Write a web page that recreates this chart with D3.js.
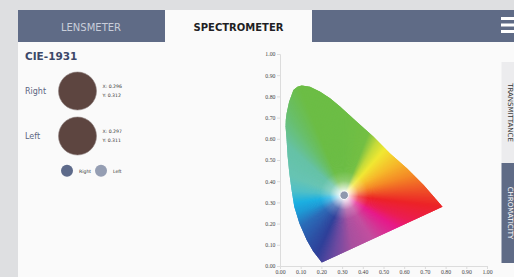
<!DOCTYPE html>
<html><head><meta charset="utf-8">
<script src="https://cdn.jsdelivr.net/npm/d3@7"></script>
<style>
html,body{margin:0;padding:0;background:#dedfe1;overflow:hidden}
svg{display:block}
</style></head>
<body>
<svg id="c" width="514" height="277"></svg>
<script>
// ---- data ----
const tabs = ["LENSMETER", "SPECTROMETER"];
const sideTabs = ["TRANSMITTANCE", "CHROMATICITY"];
const title = "CIE-1931";
const eyes = ["Right", "Left"];
const readX = [0.296, 0.297];
const readY = [0.312, 0.311];
// plotted marker position
const markerX = [0.310];
const markerY = [0.334];
// stylised spectral locus
const locusX = [0.202,0.160,0.129,0.094,0.069,0.056,0.045,0.037,0.032,0.027,0.028,0.032,0.044,0.065,0.084,0.105,0.145,0.194,0.242,0.290,0.371,0.452,0.532,0.613,0.694,0.785];
const locusY = [0.016,0.070,0.123,0.201,0.280,0.358,0.437,0.516,0.594,0.657,0.690,0.720,0.775,0.830,0.846,0.852,0.846,0.822,0.791,0.752,0.681,0.610,0.531,0.461,0.382,0.280];
const tickValues = [0,0.1,0.2,0.3,0.4,0.5,0.6,0.7,0.8,0.9,1.0];
// hue around white point: angle (deg, clockwise from up) -> colour
const hueAngles = [0,22,32,42,60,74,88,97,112,122,148,172,190,205,235,250,262,275,290,312,326,338,360];
const hueColors = ["#6cbd45","#74bf44","#c4da3a","#f1e833","#f6b82b","#f48a26","#ee4b27","#ec2327","#eb1d55","#e71a8a","#c24f9f","#a8509f","#6c4aa0","#2f4099","#2b6db9","#1e9ad6","#1db0e1","#4fbfc8","#67c4b4","#66c2a6","#68bf6e","#6cbd45","#6cbd45"];

const svg = d3.select("#c");
const W = 514, H = 277;

// ---- frame ----
svg.append("rect").attr("x",18).attr("y",42).attr("width",W-18).attr("height",H-42).attr("fill","#fafafa");
svg.append("rect").attr("x",18).attr("y",10).attr("width",W-18).attr("height",32).attr("fill","#5f6b86");
svg.append("rect").attr("x",165).attr("y",10).attr("width",147).attr("height",32).attr("fill","#fafafa");
svg.append("text").attr("x",91).attr("y",30.5).attr("text-anchor","middle")
  .attr("font-family","DejaVu Sans").attr("font-size",10).attr("fill","#c9ceda").text(tabs[0]);
svg.append("text").attr("x",238.5).attr("y",30.5).attr("text-anchor","middle")
  .attr("font-family","DejaVu Sans").attr("font-size",10).attr("font-weight","bold").attr("fill","#1f1f24").text(tabs[1]);
[18.5,25,31.5].forEach(y=>svg.append("rect").attr("x",501).attr("y",y-1.5).attr("width",14).attr("height",3).attr("fill","#ffffff"));

// side tabs
svg.append("rect").attr("x",501.5).attr("y",62).attr("width",13).attr("height",101).attr("fill","#ececee");
svg.append("rect").attr("x",501.5).attr("y",163).attr("width",13).attr("height",100).attr("fill","#5f6b86");
svg.append("text").attr("transform","translate(507.5,112.5) rotate(90)").attr("text-anchor","middle")
  .attr("font-family","DejaVu Sans").attr("font-size",7).attr("fill","#333").text(sideTabs[0]);
svg.append("text").attr("transform","translate(507.5,213) rotate(90)").attr("text-anchor","middle")
  .attr("font-family","DejaVu Sans").attr("font-size",7).attr("fill","#ffffff").text(sideTabs[1]);

// ---- left panel ----
svg.append("text").attr("x",25).attr("y",60).attr("font-family","DejaVu Sans").attr("font-weight","bold")
  .attr("font-size",10.5).attr("fill","#3c4869").text(title);
const swatchY = [91, 136];
eyes.forEach((e,i)=>{
  svg.append("text").attr("x",25).attr("y",swatchY[i]+3).attr("font-family","DejaVu Sans").attr("font-size",8)
    .attr("fill","#5a6582").text(e);
  svg.append("circle").attr("cx",77.5).attr("cy",swatchY[i]).attr("r",19).attr("fill","#5d4540")
    .attr("stroke","#8d7f7d").attr("stroke-width",0.6);
  svg.append("text").attr("x",102.5).attr("y",swatchY[i]-3).attr("font-family","DejaVu Sans").attr("font-size",4.6)
    .attr("fill","#333").text("X: "+readX[i].toFixed(3));
  svg.append("text").attr("x",102.5).attr("y",swatchY[i]+6).attr("font-family","DejaVu Sans").attr("font-size",4.6)
    .attr("fill","#333").text("Y: "+readY[i].toFixed(3));
});
const legColors = ["#5d6a8a","#959eb3"];
const legX = [67, 101];
eyes.forEach((e,i)=>{
  svg.append("circle").attr("cx",legX[i]).attr("cy",170.7).attr("r",6).attr("fill",legColors[i]);
  svg.append("text").attr("x",legX[i]+12).attr("y",172.5).attr("font-family","DejaVu Sans").attr("font-size",4.6)
    .attr("fill","#333").text(e);
});

// ---- chart ----
const x = d3.scaleLinear().domain([0,1]).range([280,487]);
const y = d3.scaleLinear().domain([0,1]).range([266,54]);

const defs = svg.append("defs");
const locusPts = locusX.map((v,i)=>[x(v),y(locusY[i])]);
defs.append("clipPath").attr("id","loc").append("path").attr("d",d3.line()(locusPts)+"Z");

const cx = x(markerX[0]), cy = y(markerY[0]);
const hue = d3.scaleLinear().domain(hueAngles).range(hueColors).interpolate(d3.interpolateRgb);
const g = svg.append("g").attr("clip-path","url(#loc)");
const R = 400, step = 1;
for (let a=0; a<360; a+=step){
  const a0 = (a-0.6)*Math.PI/180, a1 = (a+step+0.6)*Math.PI/180;
  const p = `M${cx},${cy}L${cx+R*Math.sin(a0)},${cy-R*Math.cos(a0)}L${cx+R*Math.sin(a1)},${cy-R*Math.cos(a1)}Z`;
  g.append("path").attr("d",p).attr("fill",hue(a+step/2));
}
const rg = defs.append("radialGradient").attr("id","wg").attr("gradientUnits","userSpaceOnUse")
  .attr("cx",cx).attr("cy",cy).attr("r",24);
rg.append("stop").attr("offset","0").attr("stop-color","#fff").attr("stop-opacity",1);
rg.append("stop").attr("offset","0.25").attr("stop-color","#fff").attr("stop-opacity",0.75);
rg.append("stop").attr("offset","0.6").attr("stop-color","#fff").attr("stop-opacity",0.2);
rg.append("stop").attr("offset","1").attr("stop-color","#fff").attr("stop-opacity",0);
g.append("circle").attr("cx",cx).attr("cy",cy).attr("r",24).attr("fill","url(#wg)");

// axes
const fmt = d3.format(".2f");
const yAxis = svg.append("g").attr("transform","translate(280,0)")
  .call(d3.axisLeft(y).tickValues(tickValues).tickFormat(fmt).tickSize(3).tickPadding(1.5));
const xAxis = svg.append("g").attr("transform","translate(0,266)")
  .call(d3.axisBottom(x).tickValues(tickValues).tickFormat(fmt).tickSize(3).tickPadding(1));
[yAxis,xAxis].forEach(a=>{
  a.select(".domain").attr("stroke","#dcdcdc");
  a.selectAll(".tick line").attr("stroke","#dcdcdc");
  a.selectAll("text").attr("font-family","Liberation Serif").attr("font-size",5.8).attr("fill","#444");
});

// marker
svg.append("circle").attr("cx",x(markerX[0])).attr("cy",y(markerY[0])).attr("r",4.3)
  .attr("fill","#8f98ad").attr("stroke","#ffffff").attr("stroke-width",1);
</script>
</body></html>
